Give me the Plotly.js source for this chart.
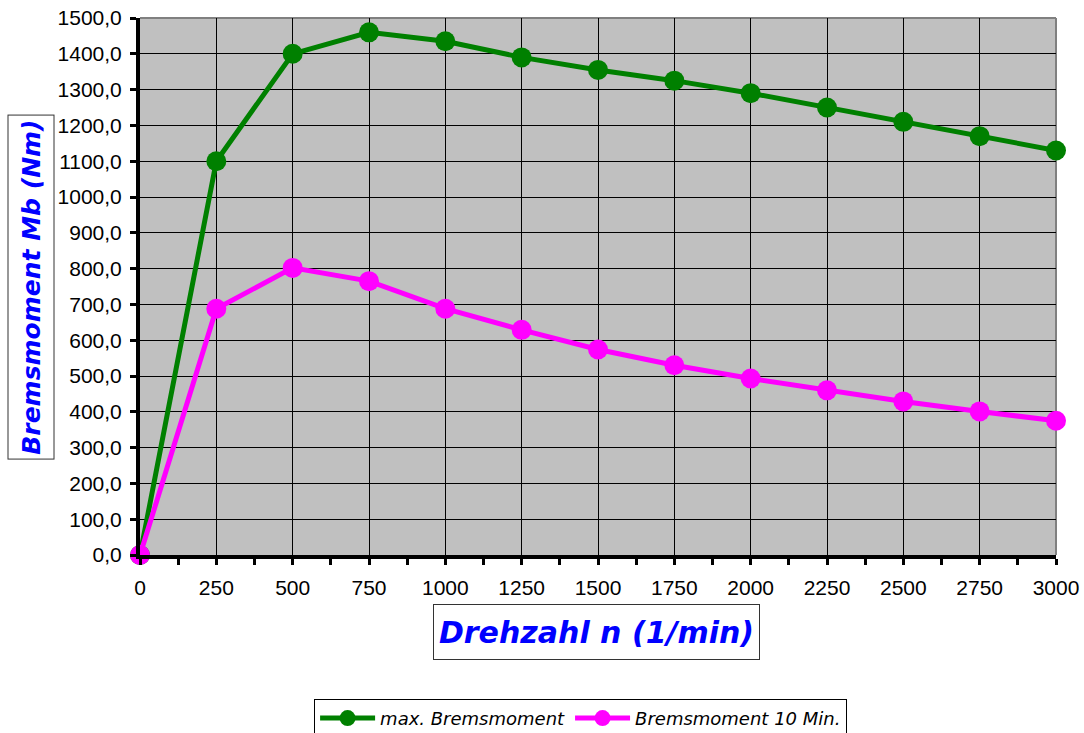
<!DOCTYPE html>
<html>
<head>
<meta charset="utf-8">
<script src="https://cdn.plot.ly/plotly-3.0.1.min.js"></script>
<style>html,body{margin:0;padding:0;background:#fff;}#chart{width:1084px;height:733px;}</style>
</head>
<body>
<div id="chart"></div>
<script>
const drehzahl = [0, 250, 500, 750, 1000, 1250, 1500, 1750, 2000, 2250, 2500, 2750, 3000];
const maxBremsmoment = [0, 1100, 1400, 1460, 1435, 1390, 1355, 1325, 1290, 1250, 1210, 1170, 1130];
const bremsmoment10 = [0, 688, 802, 765, 688, 629, 574, 530, 493, 460, 429, 401, 375];
const seriesNames = ["max. Bremsmoment", "Bremsmoment 10 Min."];
const yTickVals = [0,100,200,300,400,500,600,700,800,900,1000,1100,1200,1300,1400,1500];
const yTickText = yTickVals.map(v => v.toFixed(1).replace('.', ','));

const traces = [
  {
    x: drehzahl, y: maxBremsmoment, name: '<i>' + seriesNames[0] + '</i>', type: 'scatter', mode: 'lines+markers',
    line: {color: '#008000', width: 5}, marker: {color: '#008000', size: 20}, cliponaxis: false
  },
  {
    x: drehzahl, y: bremsmoment10, name: '<i>' + seriesNames[1] + '</i>', type: 'scatter', mode: 'lines+markers',
    line: {color: '#FF00FF', width: 5}, marker: {color: '#FF00FF', size: 20}, cliponaxis: false
  }
];

const tickFont = {family: 'Liberation Sans, Arial, sans-serif', size: 21, color: '#000'};

const layout = {
  width: 1084, height: 733,
  margin: {l: 140, r: 28, t: 18, b: 178, autoexpand: false},
  paper_bgcolor: '#ffffff',
  plot_bgcolor: '#C0C0C0',
  showlegend: true,
  font: {family: 'Liberation Sans, Arial, sans-serif', size: 20, color: '#000'},
  xaxis: {
    range: [0, 3000], tickmode: 'array', tickvals: drehzahl, ticktext: drehzahl.map(String),
    showgrid: true, gridcolor: '#000', gridwidth: 1,
    showline: true, linecolor: '#000', linewidth: 4,
    ticks: 'outside', ticklen: 6, tickwidth: 3, tickcolor: '#000',
    minor: {dtick: 125, tick0: 0, ticks: 'outside', ticklen: 6, tickwidth: 3, tickcolor: '#000', showgrid: false},
    zeroline: false, fixedrange: true, automargin: false,
    ticklabelstandoff: 5,
    tickfont: tickFont
  },
  yaxis: {
    range: [0, 1500], tickmode: 'array', tickvals: yTickVals, ticktext: yTickText,
    showgrid: true, gridcolor: '#000', gridwidth: 1,
    showline: true, linecolor: '#000', linewidth: 4,
    ticks: 'outside', ticklen: 6, tickwidth: 3, tickcolor: '#000',
    zeroline: false, fixedrange: true, automargin: false,
    ticklabelstandoff: 4,
    tickfont: tickFont
  },
  shapes: [
    {type: 'line', xref: 'paper', yref: 'paper', x0: 0, x1: 1, y0: 1, y1: 1, line: {color: '#808080', width: 2}, layer: 'below'},
    {type: 'line', xref: 'paper', yref: 'paper', x0: 1, x1: 1, y0: 0, y1: 1, line: {color: '#808080', width: 2}, layer: 'below'}
  ],
  annotations: [
    {
      text: '<b><i>Drehzahl n (1/min)</i></b>', xref: 'paper', yref: 'paper',
      x: 0.498, y: -0.143, xanchor: 'center', yanchor: 'middle', showarrow: false,
      font: {family: 'DejaVu Sans, sans-serif', size: 30, color: '#0000FF'},
      bordercolor: '#333', borderwidth: 1, borderpad: 0, bgcolor: '#fff', width: 325, height: 54
    },
    {
      text: '<b><i>Bremsmoment Mb (Nm)</i></b>', xref: 'paper', yref: 'paper',
      x: -0.1195, y: 0.499, xanchor: 'center', yanchor: 'middle', showarrow: false, textangle: -90,
      font: {family: 'DejaVu Sans, sans-serif', size: 25, color: '#0000FF'},
      bordercolor: '#333', borderwidth: 1, borderpad: 0, bgcolor: '#fff', width: 343, height: 45
    }
  ],
  legend: {
    orientation: 'h', x: 0.481, xanchor: 'center', y: -0.268, yanchor: 'top',
    bordercolor: '#000', borderwidth: 1, bgcolor: '#fff',
    font: {family: 'DejaVu Sans, sans-serif', size: 18, color: '#000'},
    itemwidth: 55, tracegroupgap: 0
  }
};

Plotly.newPlot('chart', traces, layout, {displayModeBar: false, staticPlot: true});
</script>
</body>
</html>
